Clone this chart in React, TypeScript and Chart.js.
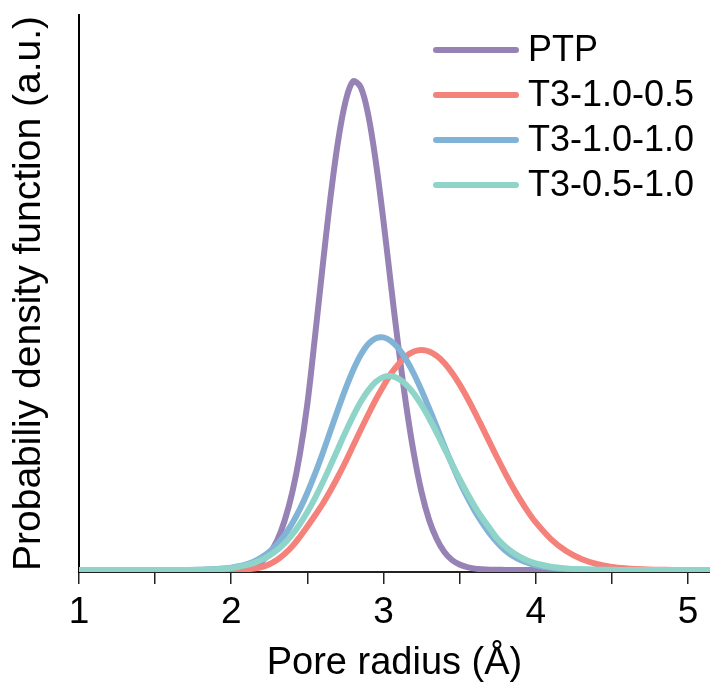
import React, { useEffect, useRef } from "react";
import { Chart, registerables } from "chart.js";

Chart.register(...registerables);

const FONT = "'Liberation Sans', Arial, Helvetica, sans-serif";

const seriesLabels = ["PTP", "T3-1.0-0.5", "T3-1.0-1.0", "T3-0.5-1.0"];
const seriesColors = ["#9682B4", "#F5827A", "#80B3D6", "#8ED4C8"];

const xValues = [
  1.0, 1.5, 1.7, 1.8, 1.9,
  2.0, 2.05, 2.1, 2.15, 2.2, 2.25, 2.3, 2.35, 2.4, 2.45,
  2.5, 2.55, 2.6, 2.65, 2.7, 2.75, 2.8, 2.85, 2.9, 2.95,
  3.0, 3.05, 3.1, 3.15, 3.2, 3.25, 3.3, 3.35, 3.4, 3.45,
  3.5, 3.55, 3.6, 3.65, 3.7, 3.75, 3.8, 3.85, 3.9, 3.95,
  4.0, 4.1, 4.2, 4.3, 4.4, 4.5, 4.6, 4.7, 4.8, 4.9, 5.0, 5.15,
];

const ptp = [
  0, 0, 0, 0.001, 0.002,
  0.005, 0.01, 0.02, 0.04, 0.085, 0.165, 0.29, 0.49, 0.77, 1.15,
  1.66, 2.33, 3.03, 3.7, 4.27, 4.68, 4.885, 4.83, 4.55, 4.08,
  3.49, 2.84, 2.21, 1.64, 1.16, 0.78, 0.5, 0.31, 0.18, 0.1,
  0.055, 0.028, 0.014, 0.007, 0.003, 0.002, 0.001, 0, 0, 0,
  0, 0, 0, 0, 0, 0, 0, 0, 0, 0, 0, 0,
];

const t3_10_05 = [
  0, 0, 0, 0, 0,
  0.001, 0.003, 0.007, 0.015, 0.03, 0.058, 0.1, 0.16, 0.235, 0.33,
  0.435, 0.545, 0.66, 0.79, 0.93, 1.08, 1.24, 1.4, 1.555, 1.705,
  1.84, 1.965, 2.06, 2.14, 2.185, 2.2, 2.185, 2.141, 2.07, 1.973,
  1.856, 1.723, 1.577, 1.424, 1.269, 1.115, 0.967, 0.827, 0.698, 0.581,
  0.477, 0.309, 0.189, 0.11, 0.06, 0.031, 0.016, 0.007, 0.003, 0.001, 0, 0,
];

const t3_10_10 = [
  0, 0, 0.001, 0.003, 0.009,
  0.023, 0.037, 0.057, 0.086, 0.126, 0.181, 0.254, 0.348, 0.465, 0.606,
  0.773, 0.961, 1.166, 1.383, 1.6, 1.808, 1.995, 2.149, 2.26, 2.318,
  2.326, 2.289, 2.213, 2.101, 1.96, 1.796, 1.616, 1.429, 1.24, 1.058,
  0.886, 0.73, 0.59, 0.469, 0.36, 0.27, 0.195, 0.14, 0.1, 0.07,
  0.048, 0.022, 0.009, 0.004, 0.002, 0.001, 0, 0, 0, 0, 0, 0,
];

const t3_05_10 = [
  0, 0, 0.001, 0.003, 0.008,
  0.021, 0.032, 0.048, 0.071, 0.102, 0.144, 0.198, 0.267, 0.353, 0.457,
  0.579, 0.718, 0.872, 1.037, 1.208, 1.377, 1.536, 1.679, 1.796, 1.882,
  1.93, 1.94, 1.911, 1.852, 1.764, 1.65, 1.517, 1.371, 1.217, 1.062,
  0.91, 0.767, 0.635, 0.517, 0.413, 0.31, 0.235, 0.175, 0.128, 0.092,
  0.065, 0.032, 0.015, 0.007, 0.003, 0.0015, 0.001, 0, 0, 0, 0, 0,
];

const seriesValues = [ptp, t3_10_05, t3_10_10, t3_05_10];

const xTitle = "Pore radius (Å)";
const yTitle = "Probabiliy density function (a.u.)";

const legendPlugin = {
  id: "customLegend",
  afterDraw(chart: any) {
    const ctx = chart.ctx;
    const x0 = 436;
    const x1 = 516;
    const textX = 528;
    const y0 = 50;
    const gap = 45;
    ctx.save();
    chart.data.datasets.forEach((ds: any, i: number) => {
      const y = y0 + i * gap;
      ctx.strokeStyle = ds.borderColor;
      ctx.lineWidth = 6;
      ctx.lineCap = "round";
      ctx.beginPath();
      ctx.moveTo(x0, y);
      ctx.lineTo(x1, y);
      ctx.stroke();
      ctx.fillStyle = "#000";
      ctx.font = `36px ${FONT}`;
      ctx.textAlign = "left";
      ctx.textBaseline = "middle";
      ctx.fillText(ds.label, textX, y + 1);
    });
    ctx.restore();
  },
};

export default function App() {
  const canvasRef = useRef<HTMLCanvasElement | null>(null);

  useEffect(() => {
    if (!canvasRef.current) return;
    const datasets = seriesLabels.map((label, i) => ({
      label,
      data: xValues.map((x, j) => ({ x, y: seriesValues[i][j] })),
      borderColor: seriesColors[i],
      backgroundColor: seriesColors[i],
      borderWidth: 6,
      pointRadius: 0,
      fill: false,
      tension: 0.35,
      borderCapStyle: "round" as const,
      borderJoinStyle: "round" as const,
      order: seriesLabels.length - i,
    }));

    const chart = new Chart(canvasRef.current, {
      type: "line",
      data: { datasets },
      plugins: [legendPlugin],
      options: {
        animation: false,
        responsive: false,
        devicePixelRatio: 1,
        events: [],
        layout: { padding: { top: 15, right: 0, left: 0, bottom: 0 } },
        plugins: {
          legend: { display: false },
          tooltip: { enabled: false },
          title: { display: false },
        },
        scales: {
          x: {
            type: "linear",
            position: "bottom",
            min: 1,
            max: 5.145,
            afterFit: (s: any) => {
              s.height = 114;
            },
            ticks: {
              stepSize: 0.5,
              includeBounds: false,
              autoSkip: false,
              maxRotation: 0,
              minRotation: 0,
              padding: 7,
              color: "#000",
              font: { size: 37, family: FONT },
              callback: (v: any) => (Number.isInteger(v) ? String(v) : ""),
            },
            grid: {
              display: true,
              drawOnChartArea: false,
              drawTicks: true,
              tickLength: 12,
              color: "#222",
              lineWidth: 1.5,
            },
            border: { display: true, color: "#222", width: 2 },
            title: {
              display: true,
              text: xTitle,
              color: "#000",
              font: { size: 38, family: FONT },
              padding: { top: 0, bottom: 0 },
            },
          },
          y: {
            type: "linear",
            min: -0.02,
            max: 5.55,
            afterFit: (s: any) => {
              s.width = 79;
            },
            ticks: { display: false },
            grid: { display: false },
            border: { display: true, color: "#000", width: 2 },
            title: {
              display: true,
              text: yTitle,
              color: "#000",
              font: { size: 39, family: FONT },
              padding: { top: 6, bottom: 0 },
            },
          },
        },
      },
    });
    return () => chart.destroy();
  }, []);

  return (
    <div style={{ position: "absolute", left: 0, top: 0, width: 710, height: 686, background: "#fff" }}>
      <canvas ref={canvasRef} width={710} height={686} style={{ display: "block", width: 710, height: 686 }} />
    </div>
  );
}
